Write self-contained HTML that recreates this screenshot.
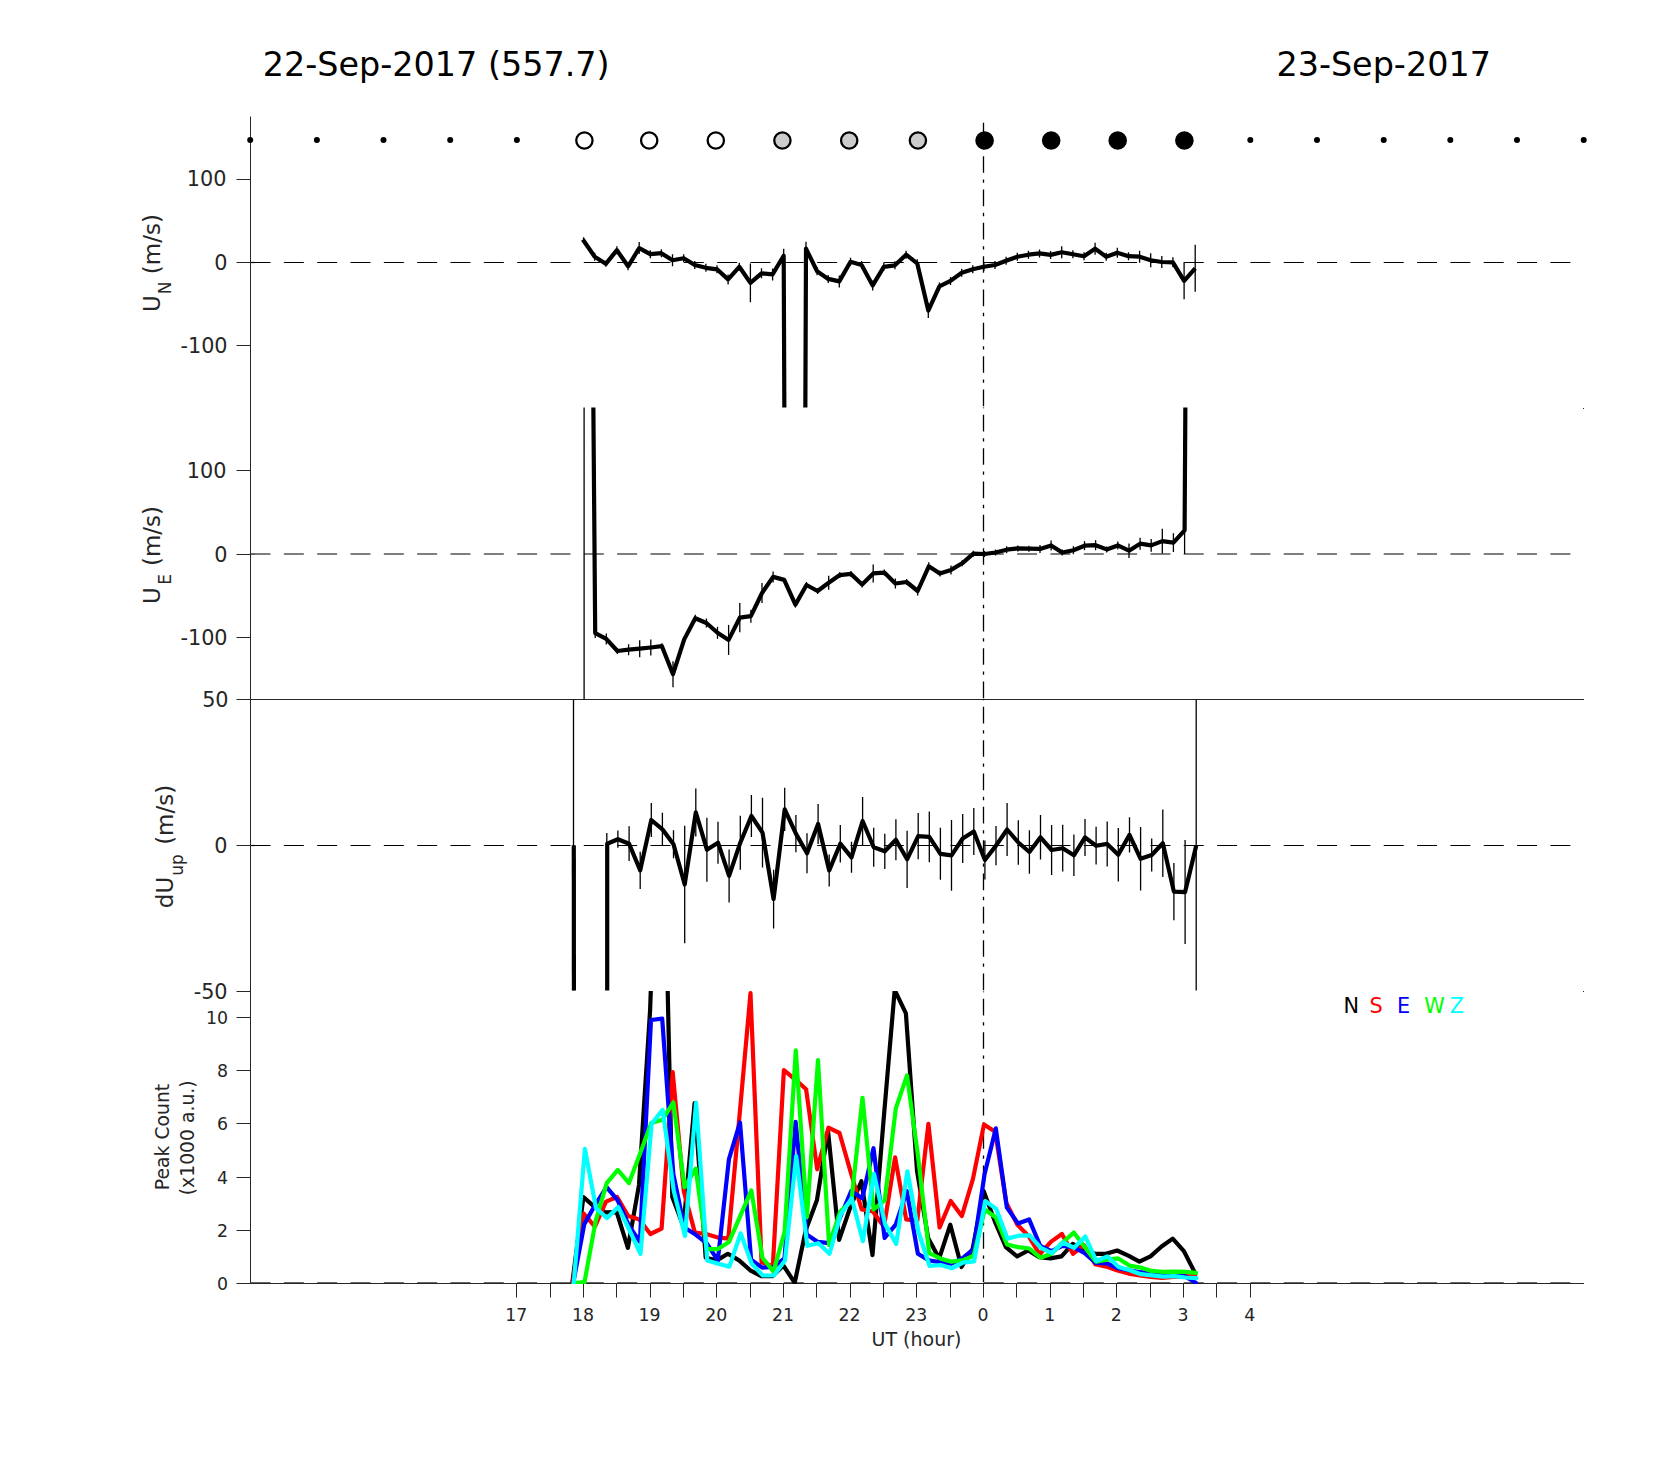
<!DOCTYPE html>
<html lang="en"><head><meta charset="utf-8"><title>22-Sep-2017 (557.7) wind summary</title>
<style>html,body{margin:0;padding:0;background:#fff}svg{display:block}text{font-family:"DejaVu Sans","Liberation Sans",sans-serif;fill:#262626}</style></head><body>
<svg width="1667" height="1458" viewBox="0 0 1667 1458">
<rect width="1667" height="1458" fill="#fff"/>
<defs>
<clipPath id="c1"><rect x="250.5" y="116.5" width="1339.5" height="291.1"/></clipPath>
<clipPath id="c2"><rect x="250.5" y="407.6" width="1339.5" height="291.5"/></clipPath>
<clipPath id="c3"><rect x="250.5" y="699.5" width="1339.5" height="291.1"/></clipPath>
<clipPath id="c4"><rect x="250.5" y="991.0" width="1339.5" height="293.1"/></clipPath>
</defs>
<text x="262.8" y="76.2" font-size="33.4" style="fill:#000">22-Sep-2017 (557.7)</text>
<text x="1276.4" y="76.2" font-size="33.4" style="fill:#000">23-Sep-2017</text>
<line x1="250.5" y1="262.5" x2="1570.5" y2="262.5" stroke="#000" stroke-width="1.2" stroke-dasharray="20 13.33"/>
<line x1="250.5" y1="554" x2="1570.5" y2="554" stroke="#000" stroke-width="1.2" stroke-dasharray="20 13.33"/>
<line x1="250.5" y1="845.5" x2="1570.5" y2="845.5" stroke="#000" stroke-width="1.2" stroke-dasharray="20 13.33"/>
<line x1="250.5" y1="1282.5" x2="1570.5" y2="1282.5" stroke="#666" stroke-width="1" stroke-dasharray="20 13.33"/>
<g stroke="#262626" stroke-width="1" fill="none">
<line x1="250.5" y1="116.5" x2="250.5" y2="1283.5"/>
<line x1="250.5" y1="699.5" x2="1584.0" y2="699.5"/>
<line x1="250.5" y1="1283.5" x2="1584.0" y2="1283.5"/>
<line x1="236.5" y1="179.5" x2="250.5" y2="179.5"/>
<line x1="236.5" y1="262.5" x2="250.5" y2="262.5"/>
<line x1="236.5" y1="345.5" x2="250.5" y2="345.5"/>
<line x1="236.5" y1="470.5" x2="250.5" y2="470.5"/>
<line x1="236.5" y1="554.5" x2="250.5" y2="554.5"/>
<line x1="236.5" y1="637.5" x2="250.5" y2="637.5"/>
<line x1="236.5" y1="699.5" x2="250.5" y2="699.5"/>
<line x1="236.5" y1="845.5" x2="250.5" y2="845.5"/>
<line x1="236.5" y1="991.5" x2="250.5" y2="991.5"/>
<line x1="236.5" y1="1283.5" x2="250.5" y2="1283.5"/>
<line x1="236.5" y1="1230.5" x2="250.5" y2="1230.5"/>
<line x1="236.5" y1="1177.5" x2="250.5" y2="1177.5"/>
<line x1="236.5" y1="1123.5" x2="250.5" y2="1123.5"/>
<line x1="236.5" y1="1070.5" x2="250.5" y2="1070.5"/>
<line x1="236.5" y1="1017.5" x2="250.5" y2="1017.5"/>
<line x1="516.5" y1="1283.5" x2="516.5" y2="1297.5"/>
<line x1="550.5" y1="1283.5" x2="550.5" y2="1297.5"/>
<line x1="583.5" y1="1283.5" x2="583.5" y2="1297.5"/>
<line x1="616.5" y1="1283.5" x2="616.5" y2="1297.5"/>
<line x1="650.5" y1="1283.5" x2="650.5" y2="1297.5"/>
<line x1="683.5" y1="1283.5" x2="683.5" y2="1297.5"/>
<line x1="716.5" y1="1283.5" x2="716.5" y2="1297.5"/>
<line x1="750.5" y1="1283.5" x2="750.5" y2="1297.5"/>
<line x1="783.5" y1="1283.5" x2="783.5" y2="1297.5"/>
<line x1="816.5" y1="1283.5" x2="816.5" y2="1297.5"/>
<line x1="850.5" y1="1283.5" x2="850.5" y2="1297.5"/>
<line x1="883.5" y1="1283.5" x2="883.5" y2="1297.5"/>
<line x1="916.5" y1="1283.5" x2="916.5" y2="1297.5"/>
<line x1="950.5" y1="1283.5" x2="950.5" y2="1297.5"/>
<line x1="983.5" y1="1283.5" x2="983.5" y2="1297.5"/>
<line x1="1016.5" y1="1283.5" x2="1016.5" y2="1297.5"/>
<line x1="1050.5" y1="1283.5" x2="1050.5" y2="1297.5"/>
<line x1="1083.5" y1="1283.5" x2="1083.5" y2="1297.5"/>
<line x1="1116.5" y1="1283.5" x2="1116.5" y2="1297.5"/>
<line x1="1150.5" y1="1283.5" x2="1150.5" y2="1297.5"/>
<line x1="1183.5" y1="1283.5" x2="1183.5" y2="1297.5"/>
<line x1="1216.5" y1="1283.5" x2="1216.5" y2="1297.5"/>
<line x1="1250.5" y1="1283.5" x2="1250.5" y2="1297.5"/>
</g>
<rect x="1583" y="408" width="1" height="1" fill="#262626"/><rect x="1583" y="991" width="1" height="1" fill="#262626"/>
<text x="226.5" y="186.1" font-size="20.8" text-anchor="end">100</text>
<text x="227.6" y="270.1" font-size="20.8" text-anchor="end">0</text>
<text x="227.6" y="353.2" font-size="20.8" text-anchor="end">-100</text>
<text x="226.5" y="478.2" font-size="20.8" text-anchor="end">100</text>
<text x="227.6" y="561.6" font-size="20.8" text-anchor="end">0</text>
<text x="227.6" y="644.9" font-size="20.8" text-anchor="end">-100</text>
<text x="228.6" y="706.7" font-size="20.8" text-anchor="end">50</text>
<text x="227.6" y="853.1" font-size="20.8" text-anchor="end">0</text>
<text x="227.6" y="999.3" font-size="20.8" text-anchor="end">-50</text>
<text x="228" y="1289.8" font-size="17.33" text-anchor="end">0</text>
<text x="228" y="1236.8" font-size="17.33" text-anchor="end">2</text>
<text x="228" y="1183.8" font-size="17.33" text-anchor="end">4</text>
<text x="228" y="1129.8" font-size="17.33" text-anchor="end">6</text>
<text x="228" y="1076.8" font-size="17.33" text-anchor="end">8</text>
<text x="228" y="1023.9" font-size="17.33" text-anchor="end">10</text>
<text x="516.3" y="1321.1" font-size="17.33" text-anchor="middle">17</text>
<text x="583" y="1321.1" font-size="17.33" text-anchor="middle">18</text>
<text x="649.6" y="1321.1" font-size="17.33" text-anchor="middle">19</text>
<text x="716.3" y="1321.1" font-size="17.33" text-anchor="middle">20</text>
<text x="783" y="1321.1" font-size="17.33" text-anchor="middle">21</text>
<text x="849.6" y="1321.1" font-size="17.33" text-anchor="middle">22</text>
<text x="916.3" y="1321.1" font-size="17.33" text-anchor="middle">23</text>
<text x="983" y="1321.1" font-size="17.33" text-anchor="middle">0</text>
<text x="1049.7" y="1321.1" font-size="17.33" text-anchor="middle">1</text>
<text x="1116.3" y="1321.1" font-size="17.33" text-anchor="middle">2</text>
<text x="1183" y="1321.1" font-size="17.33" text-anchor="middle">3</text>
<text x="1249.7" y="1321.1" font-size="17.33" text-anchor="middle">4</text>
<text x="916.5" y="1345.5" font-size="19" text-anchor="middle">UT (hour)</text>
<text transform="translate(160.1,311.9) rotate(-90)" font-size="23">U<tspan font-size="17" dx="0.8" dy="11.2">N</tspan><tspan dy="-11.2"> (m/s)</tspan></text>
<text transform="translate(160.1,604) rotate(-90)" font-size="23">U<tspan font-size="17" dx="2.5" dy="11.2">E</tspan><tspan dx="0.5" dy="-11.2"> (m/s)</tspan></text>
<text transform="translate(172.8,908.2) rotate(-90)" font-size="23">dU<tspan font-size="17" dx="1" dy="10.4">up</tspan><tspan dx="2" dy="-10.4"> (m/s)</tspan></text>
<text transform="translate(168.8,1137) rotate(-90)" font-size="18.8" text-anchor="middle">Peak Count</text>
<text transform="translate(194.2,1137.8) rotate(-90)" font-size="18.8" text-anchor="middle">(x1000 a.u.)</text>
<g font-size="20.8">
<text x="1343.6" y="1012.9" style="fill:#000">N</text>
<text x="1369.6" y="1012.9" style="fill:#f00">S</text>
<text x="1397.0" y="1012.9" style="fill:#00f">E</text>
<text x="1424.3" y="1012.9" style="fill:#0f0">W</text>
<text x="1449.8" y="1012.9" style="fill:#0ff">Z</text>
</g>
<line x1="983.5" y1="407.5" x2="983.5" y2="116.5" stroke="#000" stroke-width="1.3" stroke-dasharray="16.67 6.67 3.33 6.67" stroke-dashoffset="-1.3"/>
<line x1="983.5" y1="699.5" x2="983.5" y2="407.5" stroke="#000" stroke-width="1.3" stroke-dasharray="16.67 6.67 3.33 6.67" stroke-dashoffset="-1.3"/>
<line x1="983.5" y1="991.5" x2="983.5" y2="699.5" stroke="#000" stroke-width="1.3" stroke-dasharray="16.67 6.67 3.33 6.67" stroke-dashoffset="-1.3"/>
<line x1="983.5" y1="1283.5" x2="983.5" y2="991.5" stroke="#000" stroke-width="1.3" stroke-dasharray="16.67 6.67 3.33 6.67" stroke-dashoffset="-1.3"/>
<g clip-path="url(#c4)">
<polyline points="572.3,1283.1 583.4,1197 594.5,1206.9 605.6,1212.4 616.7,1212.2 627.9,1247.8 639,1185 650.1,1010 661.2,700 672.3,1197 683.5,1226.5 694.6,1103.2 705.7,1257.7 716.8,1260.4 727.9,1253.8 739.1,1260.4 750.2,1270.3 761.3,1276.2 772.4,1276.2 783.5,1265.6 794.7,1282.8 805.8,1230 816.9,1200.3 828,1131 839.1,1239.9 850.3,1207.2 861.4,1181.2 872.5,1255.1 883.6,1119.8 894.7,990 905.9,1013.4 917,1170.6 928.1,1237.9 939.2,1258.4 950.3,1224.7 961.5,1267 972.6,1249.1 983.7,1191.1 994.8,1221.4 1005.9,1247.2 1017.1,1256.4 1028.2,1250.5 1039.3,1257.1 1050.4,1258.4 1061.5,1256.4 1072.7,1243.9 1083.8,1249.1 1094.9,1253.8 1106,1253.8 1117.1,1250.5 1128.3,1255.7 1139.4,1261.7 1150.5,1256.4 1161.6,1246.5 1172.7,1238.6 1183.9,1251.1 1195,1272.9" fill="none" stroke="#000" stroke-width="4.2" stroke-linejoin="round" stroke-linecap="round"/>
<polyline points="572.6,1283.1 583.7,1213.5 594.9,1226.7 606,1201.6 617.1,1197 628.2,1216.1 639.3,1219.4 650.4,1234 661.6,1228.7 672.7,1072.1 683.8,1191.1 694.9,1232.6 706,1234 717.2,1237.3 728.3,1238.6 739.4,1117 750.5,993.2 761.6,1262.3 772.8,1266.3 783.9,1070.1 795,1079.4 806.1,1089.3 817.2,1169.3 828.4,1127.7 839.5,1133 850.6,1171.9 861.7,1209.5 872.9,1211.5 884,1226.7 895.1,1157.4 906.2,1219.4 917.3,1220.8 928.4,1123.8 939.6,1227.4 950.7,1201 961.8,1216.1 972.9,1179.2 984,1124.4 995.2,1131.7 1006.3,1202.9 1017.4,1224.7 1028.5,1235.9 1039.7,1254.4 1050.8,1241.9 1061.9,1234 1073,1253.8 1084.1,1245.2 1095.2,1264.3 1106.4,1266.6 1117.5,1270.5 1128.6,1273.6 1139.7,1275.3 1150.9,1276.9 1162,1277.9 1173.1,1276.9 1184.2,1276.2 1195.3,1274.9" fill="none" stroke="#f00" stroke-width="4.2" stroke-linejoin="round" stroke-linecap="round"/>
<polyline points="573.2,1283.1 584.3,1224.1 595.5,1204.3 606.6,1187.1 617.7,1200.3 628.8,1225.4 639.9,1241.9 651,1020 662.2,1018.7 673.3,1173.9 684.4,1227.4 695.5,1234.6 706.6,1243.2 717.8,1260.4 728.9,1159.4 740,1122.4 751.1,1259.7 762.2,1267.6 773.4,1267 784.5,1258.4 795.6,1121.8 806.7,1234.6 817.9,1241.9 829,1243.2 840.1,1217.5 851.2,1191.1 862.3,1198.3 873.5,1148.2 884.6,1237.9 895.7,1224.7 906.8,1191.1 917.9,1253.8 929,1260.4 940.2,1262.3 951.3,1263.7 962.4,1258.4 973.5,1249.1 984.6,1173.9 995.8,1128.4 1006.9,1207.6 1018,1223.4 1029.1,1219.4 1040.2,1245.8 1051.4,1251.1 1062.5,1245.8 1073.6,1247.2 1084.7,1253.1 1095.8,1263 1107,1263.4 1118.1,1268.3 1129.2,1270.3 1140.3,1272.2 1151.5,1273.6 1162.6,1274.9 1173.7,1275.5 1184.8,1276.2 1195.9,1282.8" fill="none" stroke="#00f" stroke-width="4.2" stroke-linejoin="round" stroke-linecap="round"/>
<polyline points="573.4,1283.1 584.5,1282.1 595.6,1221.4 606.7,1183.1 617.8,1169.9 629,1183.1 640.1,1153.5 651.2,1123.1 662.3,1119.8 673.4,1102.5 684.6,1187.1 695.7,1168.6 706.8,1249.1 717.9,1249.1 729,1241.9 740.2,1216.1 751.3,1190.4 762.4,1257.7 773.5,1271.6 784.6,1232 795.8,1050.3 806.9,1216.8 818,1060.2 829.1,1245.2 840.2,1211.5 851.4,1201 862.5,1097.8 873.6,1209.5 884.7,1200.3 895.8,1108.4 907,1075.4 918.1,1156.8 929.2,1253.1 940.3,1258.4 951.4,1261.7 962.6,1260.4 973.7,1255.7 984.8,1209.5 995.9,1217.5 1007,1244.5 1018.2,1247.2 1029.3,1248.5 1040.4,1257.7 1051.5,1253.8 1062.6,1242.5 1073.8,1232.6 1084.9,1247.2 1096,1261.7 1107.1,1259.7 1118.2,1258.4 1129.4,1265.6 1140.5,1267.6 1151.6,1270.9 1162.7,1271.8 1173.8,1271.6 1185,1271.8 1196.1,1272.9" fill="none" stroke="#0f0" stroke-width="4.2" stroke-linejoin="round" stroke-linecap="round"/>
<polyline points="573.8,1283.1 584.9,1148.8 596,1208.2 607.1,1218.1 618.2,1206.9 629.4,1230 640.5,1253.8 651.6,1123.8 662.7,1109.9 673.8,1191.1 685,1235.9 696.1,1102.6 707.2,1260.4 718.3,1263.7 729.4,1266.6 740.6,1233.3 751.7,1263.7 762.8,1275.5 773.9,1275.5 785,1260.4 796.2,1156.1 807.3,1245.8 818.4,1243.2 829.5,1253.8 840.6,1214.8 851.8,1198.3 862.9,1241.2 874,1173.9 885.1,1224.1 896.2,1243.9 907.4,1171.3 918.5,1232 929.6,1266 940.7,1265 951.8,1268.3 963,1262.6 974.1,1261.3 985.2,1201 996.3,1208.9 1007.4,1238.6 1018.6,1235.7 1029.7,1235.3 1040.8,1247.8 1051.9,1253.1 1063,1242.5 1074.2,1247.8 1085.3,1236.6 1096.4,1261 1107.5,1256.4 1118.6,1267 1129.8,1270.3 1140.9,1274.2 1152,1275.3 1163.1,1276.6 1174.2,1276.2 1185.4,1277.5 1196.5,1278.2" fill="none" stroke="#0ff" stroke-width="4.2" stroke-linejoin="round" stroke-linecap="round"/>
</g>
<g clip-path="url(#c1)">
<g stroke="#000" stroke-width="1.3">
<line x1="583.6" y1="237.3" x2="583.6" y2="241.3"/>
<line x1="594.7" y1="252.7" x2="594.7" y2="260.7"/>
<line x1="605.8" y1="260.8" x2="605.8" y2="266.8"/>
<line x1="616.9" y1="246.2" x2="616.9" y2="254.2"/>
<line x1="628.1" y1="262.3" x2="628.1" y2="270.3"/>
<line x1="639.2" y1="242.1" x2="639.2" y2="254.1"/>
<line x1="650.3" y1="250.2" x2="650.3" y2="258.2"/>
<line x1="661.4" y1="249.2" x2="661.4" y2="257.2"/>
<line x1="672.5" y1="254.2" x2="672.5" y2="266.2"/>
<line x1="683.7" y1="254.2" x2="683.7" y2="262.2"/>
<line x1="694.8" y1="261" x2="694.8" y2="269"/>
<line x1="705.9" y1="263.8" x2="705.9" y2="271.8"/>
<line x1="717" y1="265.3" x2="717" y2="273.3"/>
<line x1="728.1" y1="274.4" x2="728.1" y2="284.4"/>
<line x1="739.3" y1="262.8" x2="739.3" y2="270.8"/>
<line x1="750.4" y1="263.5" x2="750.4" y2="302.3"/>
<line x1="761.5" y1="268.3" x2="761.5" y2="278.3"/>
<line x1="772.6" y1="268.4" x2="772.6" y2="280.4"/>
<line x1="783.7" y1="248.7" x2="783.7" y2="262.7"/>
<line x1="806" y1="241.7" x2="806" y2="255.7"/>
<line x1="817.1" y1="267.3" x2="817.1" y2="275.3"/>
<line x1="828.2" y1="274.9" x2="828.2" y2="282.9"/>
<line x1="839.3" y1="275.4" x2="839.3" y2="287.4"/>
<line x1="850.5" y1="257.8" x2="850.5" y2="265.8"/>
<line x1="861.6" y1="261" x2="861.6" y2="269"/>
<line x1="872.7" y1="280.4" x2="872.7" y2="290.4"/>
<line x1="883.8" y1="262.8" x2="883.8" y2="270.8"/>
<line x1="894.9" y1="261.3" x2="894.9" y2="269.3"/>
<line x1="906.1" y1="250.7" x2="906.1" y2="258.7"/>
<line x1="917.2" y1="259.3" x2="917.2" y2="267.3"/>
<line x1="928.3" y1="303.1" x2="928.3" y2="318.1"/>
<line x1="939.4" y1="282.4" x2="939.4" y2="290.4"/>
<line x1="950.5" y1="276.9" x2="950.5" y2="284.9"/>
<line x1="961.7" y1="268.8" x2="961.7" y2="276.8"/>
<line x1="972.8" y1="265.3" x2="972.8" y2="273.3"/>
<line x1="983.9" y1="262.8" x2="983.9" y2="270.8"/>
<line x1="995" y1="261" x2="995" y2="269"/>
<line x1="1006.1" y1="256.7" x2="1006.1" y2="264.7"/>
<line x1="1017.3" y1="252.7" x2="1017.3" y2="260.7"/>
<line x1="1028.4" y1="250.7" x2="1028.4" y2="258.7"/>
<line x1="1039.5" y1="249.4" x2="1039.5" y2="257.4"/>
<line x1="1050.6" y1="250.9" x2="1050.6" y2="258.9"/>
<line x1="1061.7" y1="246.2" x2="1061.7" y2="258.2"/>
<line x1="1072.9" y1="250.2" x2="1072.9" y2="258.2"/>
<line x1="1084" y1="252.2" x2="1084" y2="260.2"/>
<line x1="1095.1" y1="242.7" x2="1095.1" y2="254.7"/>
<line x1="1106.2" y1="252.7" x2="1106.2" y2="260.7"/>
<line x1="1117.3" y1="247.7" x2="1117.3" y2="257.7"/>
<line x1="1128.5" y1="252.2" x2="1128.5" y2="260.2"/>
<line x1="1139.6" y1="250.7" x2="1139.6" y2="262.7"/>
<line x1="1150.7" y1="253.2" x2="1150.7" y2="267.2"/>
<line x1="1161.8" y1="256" x2="1161.8" y2="268"/>
<line x1="1172.9" y1="257.3" x2="1172.9" y2="267.3"/>
<line x1="1184.1" y1="262.5" x2="1184.1" y2="299.3"/>
<line x1="1195.2" y1="244.8" x2="1195.2" y2="291.8"/>
</g>
<polyline points="582.8,239.5 594.7,256.7 605.8,263.8 616.9,250.2 628.1,266.3 639.2,248.1 650.3,254.2 661.4,253.2 672.5,260.2 683.7,258.2 694.8,265 705.9,267.8 717,269.3 728.1,279.4 739.3,266.8 750.4,282.9 761.5,273.3 772.6,274.4 783.7,255.7 784.4,420" fill="none" stroke="#000" stroke-width="4.2" stroke-linejoin="round"/>
<polyline points="805.3,420 806,248.7 817.1,271.3 828.2,278.9 839.3,281.4 850.5,261.8 861.6,265 872.7,285.4 883.8,266.8 894.9,265.3 906.1,254.7 917.2,263.3 928.3,310.6 939.4,286.4 950.5,280.9 961.7,272.8 972.8,269.3 983.9,266.8 995,265 1006.1,260.7 1017.3,256.7 1028.4,254.7 1039.5,253.4 1050.6,254.9 1061.7,252.2 1072.9,254.2 1084,256.2 1095.1,248.7 1106.2,256.7 1117.3,252.7 1128.5,256.2 1139.6,256.7 1150.7,260.2 1161.8,262 1172.9,262.3 1184.1,280.9 1195.2,268.3" fill="none" stroke="#000" stroke-width="4.2" stroke-linejoin="round"/>
</g>
<g clip-path="url(#c2)">
<g stroke="#000" stroke-width="1.3">
<line x1="584.1" y1="400" x2="584.1" y2="699.5"/>
<line x1="595.2" y1="628.1" x2="595.2" y2="638.1"/>
<line x1="606.3" y1="633.4" x2="606.3" y2="644.4"/>
<line x1="617.4" y1="648" x2="617.4" y2="654"/>
<line x1="628.6" y1="644.2" x2="628.6" y2="655.2"/>
<line x1="639.7" y1="640.2" x2="639.7" y2="657.2"/>
<line x1="650.8" y1="639.5" x2="650.8" y2="655.5"/>
<line x1="661.9" y1="643.2" x2="661.9" y2="649.2"/>
<line x1="673" y1="661.2" x2="673" y2="687.2"/>
<line x1="684.2" y1="636.9" x2="684.2" y2="641.9"/>
<line x1="695.3" y1="614.7" x2="695.3" y2="621.7"/>
<line x1="706.4" y1="618.5" x2="706.4" y2="627.5"/>
<line x1="717.5" y1="626.8" x2="717.5" y2="638.8"/>
<line x1="728.6" y1="624.9" x2="728.6" y2="654.9"/>
<line x1="739.8" y1="603.1" x2="739.8" y2="632.3"/>
<line x1="750.9" y1="609.7" x2="750.9" y2="622.7"/>
<line x1="762" y1="583" x2="762" y2="603"/>
<line x1="773.1" y1="571.4" x2="773.1" y2="582.4"/>
<line x1="784.2" y1="577.9" x2="784.2" y2="581.9"/>
<line x1="795.4" y1="601.6" x2="795.4" y2="607.6"/>
<line x1="806.5" y1="582" x2="806.5" y2="588"/>
<line x1="817.6" y1="588" x2="817.6" y2="594"/>
<line x1="828.7" y1="575.7" x2="828.7" y2="589.7"/>
<line x1="839.8" y1="572.1" x2="839.8" y2="578.1"/>
<line x1="851" y1="570.9" x2="851" y2="576.9"/>
<line x1="862.1" y1="581.5" x2="862.1" y2="587.5"/>
<line x1="873.2" y1="564.4" x2="873.2" y2="582.4"/>
<line x1="884.3" y1="569.6" x2="884.3" y2="575.6"/>
<line x1="895.4" y1="578.5" x2="895.4" y2="588.5"/>
<line x1="906.6" y1="579" x2="906.6" y2="585"/>
<line x1="917.7" y1="586.5" x2="917.7" y2="595.5"/>
<line x1="928.8" y1="562.3" x2="928.8" y2="570.3"/>
<line x1="939.9" y1="570.4" x2="939.9" y2="576.4"/>
<line x1="951" y1="565.4" x2="951" y2="574.4"/>
<line x1="962.2" y1="560.3" x2="962.2" y2="566.3"/>
<line x1="973.3" y1="550.7" x2="973.3" y2="556.7"/>
<line x1="984.4" y1="551" x2="984.4" y2="557"/>
<line x1="995.5" y1="549.5" x2="995.5" y2="555.5"/>
<line x1="1006.6" y1="546.2" x2="1006.6" y2="553.2"/>
<line x1="1017.8" y1="545.4" x2="1017.8" y2="551.4"/>
<line x1="1028.9" y1="545.7" x2="1028.9" y2="551.7"/>
<line x1="1040" y1="544.9" x2="1040" y2="552.9"/>
<line x1="1051.1" y1="540.4" x2="1051.1" y2="550.4"/>
<line x1="1062.2" y1="549.5" x2="1062.2" y2="555.5"/>
<line x1="1073.4" y1="546.2" x2="1073.4" y2="554.2"/>
<line x1="1084.5" y1="541.2" x2="1084.5" y2="550.2"/>
<line x1="1095.6" y1="540.2" x2="1095.6" y2="550.2"/>
<line x1="1106.7" y1="546.4" x2="1106.7" y2="552.4"/>
<line x1="1117.8" y1="541.4" x2="1117.8" y2="549.4"/>
<line x1="1129" y1="543.4" x2="1129" y2="558"/>
<line x1="1140.1" y1="537.7" x2="1140.1" y2="549.7"/>
<line x1="1151.2" y1="539.1" x2="1151.2" y2="551.7"/>
<line x1="1162.3" y1="528.8" x2="1162.3" y2="553.4"/>
<line x1="1173.4" y1="533.2" x2="1173.4" y2="552"/>
<line x1="1184.6" y1="506.6" x2="1184.6" y2="554"/>
</g>
<polyline points="593.3,400 595.2,633.1 606.3,638.9 617.4,651 628.6,649.7 639.7,648.7 650.8,647.5 661.9,646.2 673,674.2 684.2,639.4 695.3,618.2 706.4,623 717.5,632.8 728.6,639.9 739.8,617.7 750.9,616.2 762,593 773.1,576.9 784.2,579.9 795.4,604.6 806.5,585 817.6,591 828.7,582.7 839.8,575.1 851,573.9 862.1,584.5 873.2,573.4 884.3,572.6 895.4,583.5 906.6,582 917.7,591 928.8,566.3 939.9,573.4 951,569.9 962.2,563.3 973.3,553.7 984.4,554 995.5,552.5 1006.6,549.7 1017.8,548.4 1028.9,548.7 1040,548.9 1051.1,545.4 1062.2,552.5 1073.4,550.2 1084.5,545.7 1095.6,545.2 1106.7,549.4 1117.8,545.4 1129,550.7 1140.1,543.7 1151.2,545.4 1162.3,541.1 1173.4,542.6 1184.6,530.3 1185.4,400" fill="none" stroke="#000" stroke-width="4.2" stroke-linejoin="round"/>
</g>
<g clip-path="url(#c3)">
<g stroke="#000" stroke-width="1.3">
<line x1="573.5" y1="699.5" x2="573.5" y2="991.0"/>
<line x1="1196.2" y1="699.5" x2="1196.2" y2="991.0"/>
<line x1="606.8" y1="832.9" x2="606.8" y2="854.5"/>
<line x1="617.9" y1="830.6" x2="617.9" y2="847.8"/>
<line x1="629.1" y1="826.3" x2="629.1" y2="861.1"/>
<line x1="640.2" y1="851.8" x2="640.2" y2="889"/>
<line x1="651.3" y1="803" x2="651.3" y2="837"/>
<line x1="662.4" y1="812.7" x2="662.4" y2="845.9"/>
<line x1="673.5" y1="830.2" x2="673.5" y2="858.2"/>
<line x1="684.7" y1="825.8" x2="684.7" y2="943.2"/>
<line x1="695.8" y1="788.4" x2="695.8" y2="836.4"/>
<line x1="706.9" y1="817.7" x2="706.9" y2="881.7"/>
<line x1="718" y1="821.7" x2="718" y2="863.7"/>
<line x1="729.1" y1="849.4" x2="729.1" y2="902.4"/>
<line x1="740.3" y1="815.7" x2="740.3" y2="869.7"/>
<line x1="751.4" y1="795" x2="751.4" y2="837"/>
<line x1="762.5" y1="797.8" x2="762.5" y2="867.4"/>
<line x1="773.6" y1="869.7" x2="773.6" y2="928.5"/>
<line x1="784.7" y1="787.7" x2="784.7" y2="831.1"/>
<line x1="795.9" y1="815" x2="795.9" y2="852.2"/>
<line x1="807" y1="833.3" x2="807" y2="873.3"/>
<line x1="818.1" y1="804" x2="818.1" y2="844"/>
<line x1="829.2" y1="854.4" x2="829.2" y2="886.4"/>
<line x1="840.3" y1="824.9" x2="840.3" y2="862.5"/>
<line x1="851.5" y1="841.8" x2="851.5" y2="872.8"/>
<line x1="862.6" y1="797" x2="862.6" y2="845"/>
<line x1="873.7" y1="827.7" x2="873.7" y2="866.7"/>
<line x1="884.8" y1="833.7" x2="884.8" y2="868.9"/>
<line x1="895.9" y1="819.2" x2="895.9" y2="860.2"/>
<line x1="907.1" y1="830.7" x2="907.1" y2="887.9"/>
<line x1="918.2" y1="812.9" x2="918.2" y2="859.3"/>
<line x1="929.3" y1="811.6" x2="929.3" y2="862.2"/>
<line x1="940.4" y1="827.8" x2="940.4" y2="879.8"/>
<line x1="951.5" y1="820" x2="951.5" y2="890.8"/>
<line x1="962.7" y1="814" x2="962.7" y2="863"/>
<line x1="973.8" y1="807.9" x2="973.8" y2="855.1"/>
<line x1="984.9" y1="840.4" x2="984.9" y2="879.6"/>
<line x1="996" y1="826" x2="996" y2="865.2"/>
<line x1="1007.1" y1="802.9" x2="1007.1" y2="856.1"/>
<line x1="1018.3" y1="820.2" x2="1018.3" y2="864.8"/>
<line x1="1029.4" y1="830.2" x2="1029.4" y2="873.8"/>
<line x1="1040.5" y1="815" x2="1040.5" y2="859.6"/>
<line x1="1051.6" y1="825" x2="1051.6" y2="875"/>
<line x1="1062.7" y1="824.8" x2="1062.7" y2="871.6"/>
<line x1="1073.9" y1="834.6" x2="1073.9" y2="876"/>
<line x1="1085" y1="818.9" x2="1085" y2="855.9"/>
<line x1="1096.1" y1="826.8" x2="1096.1" y2="864.6"/>
<line x1="1107.2" y1="821.4" x2="1107.2" y2="866.4"/>
<line x1="1118.3" y1="828.1" x2="1118.3" y2="881.5"/>
<line x1="1129.5" y1="817.3" x2="1129.5" y2="852.5"/>
<line x1="1140.6" y1="827.1" x2="1140.6" y2="890.5"/>
<line x1="1151.7" y1="838.4" x2="1151.7" y2="871.6"/>
<line x1="1162.8" y1="809.4" x2="1162.8" y2="877"/>
<line x1="1173.9" y1="862.9" x2="1173.9" y2="920.3"/>
<line x1="1185.1" y1="840.1" x2="1185.1" y2="944.1"/>
</g>
<polyline points="573.8,845.2 573.9,1000" fill="none" stroke="#000" stroke-width="4.2"/>
<polyline points="607.2,1000 607.2,843.7 617.9,839.2 629.1,843.7 640.2,870.4 651.3,820 662.4,829.3 673.5,844.2 684.7,884.5 695.8,812.4 706.9,849.7 718,842.7 729.1,875.9 740.3,842.7 751.4,816 762.5,832.6 773.6,899.1 784.7,809.4 795.9,833.6 807,853.3 818.1,824 829.2,870.4 840.3,843.7 851.5,857.3 862.6,821 873.7,847.2 884.8,851.3 895.9,839.7 907.1,859.3 918.2,836.1 929.3,836.9 940.4,853.8 951.5,855.4 962.7,838.5 973.8,831.5 984.9,860 996,845.6 1007.1,829.5 1018.3,842.5 1029.4,852 1040.5,837.3 1051.6,850 1062.7,848.2 1073.9,855.3 1085,837.4 1096.1,845.7 1107.2,843.9 1118.3,854.8 1129.5,834.9 1140.6,858.8 1151.7,855 1162.8,843.2 1173.9,891.6 1185.1,892.1 1196.2,845.7" fill="none" stroke="#000" stroke-width="4.2" stroke-linejoin="round"/>
</g>
<circle cx="250.2" cy="139.9" r="3.0" fill="#000"/>
<circle cx="316.9" cy="139.9" r="3.0" fill="#000"/>
<circle cx="383.5" cy="139.9" r="3.0" fill="#000"/>
<circle cx="450.2" cy="139.9" r="3.0" fill="#000"/>
<circle cx="516.9" cy="139.9" r="3.0" fill="#000"/>
<circle cx="1250.3" cy="139.9" r="3.0" fill="#000"/>
<circle cx="1317" cy="139.9" r="3.0" fill="#000"/>
<circle cx="1383.7" cy="139.9" r="3.0" fill="#000"/>
<circle cx="1450.3" cy="139.9" r="3.0" fill="#000"/>
<circle cx="1517" cy="139.9" r="3.0" fill="#000"/>
<circle cx="1583.7" cy="139.9" r="3.0" fill="#000"/>
<circle cx="584.4" cy="140.5" r="8.15" fill="#fff" stroke="#000" stroke-width="2.3"/>
<circle cx="649.2" cy="140.5" r="8.15" fill="#fff" stroke="#000" stroke-width="2.3"/>
<circle cx="715.8" cy="140.5" r="8.15" fill="#fff" stroke="#000" stroke-width="2.3"/>
<circle cx="782.4" cy="140.5" r="8.15" fill="#ccc" stroke="#000" stroke-width="2.3"/>
<circle cx="849.2" cy="140.5" r="8.15" fill="#ccc" stroke="#000" stroke-width="2.3"/>
<circle cx="917.9" cy="140.5" r="8.15" fill="#ccc" stroke="#000" stroke-width="2.3"/>
<circle cx="984.6" cy="140.5" r="9.3" fill="#000"/>
<circle cx="1051.2" cy="140.5" r="9.3" fill="#000"/>
<circle cx="1117.7" cy="140.5" r="9.3" fill="#000"/>
<circle cx="1184.4" cy="140.5" r="9.3" fill="#000"/>
</svg></body></html>
